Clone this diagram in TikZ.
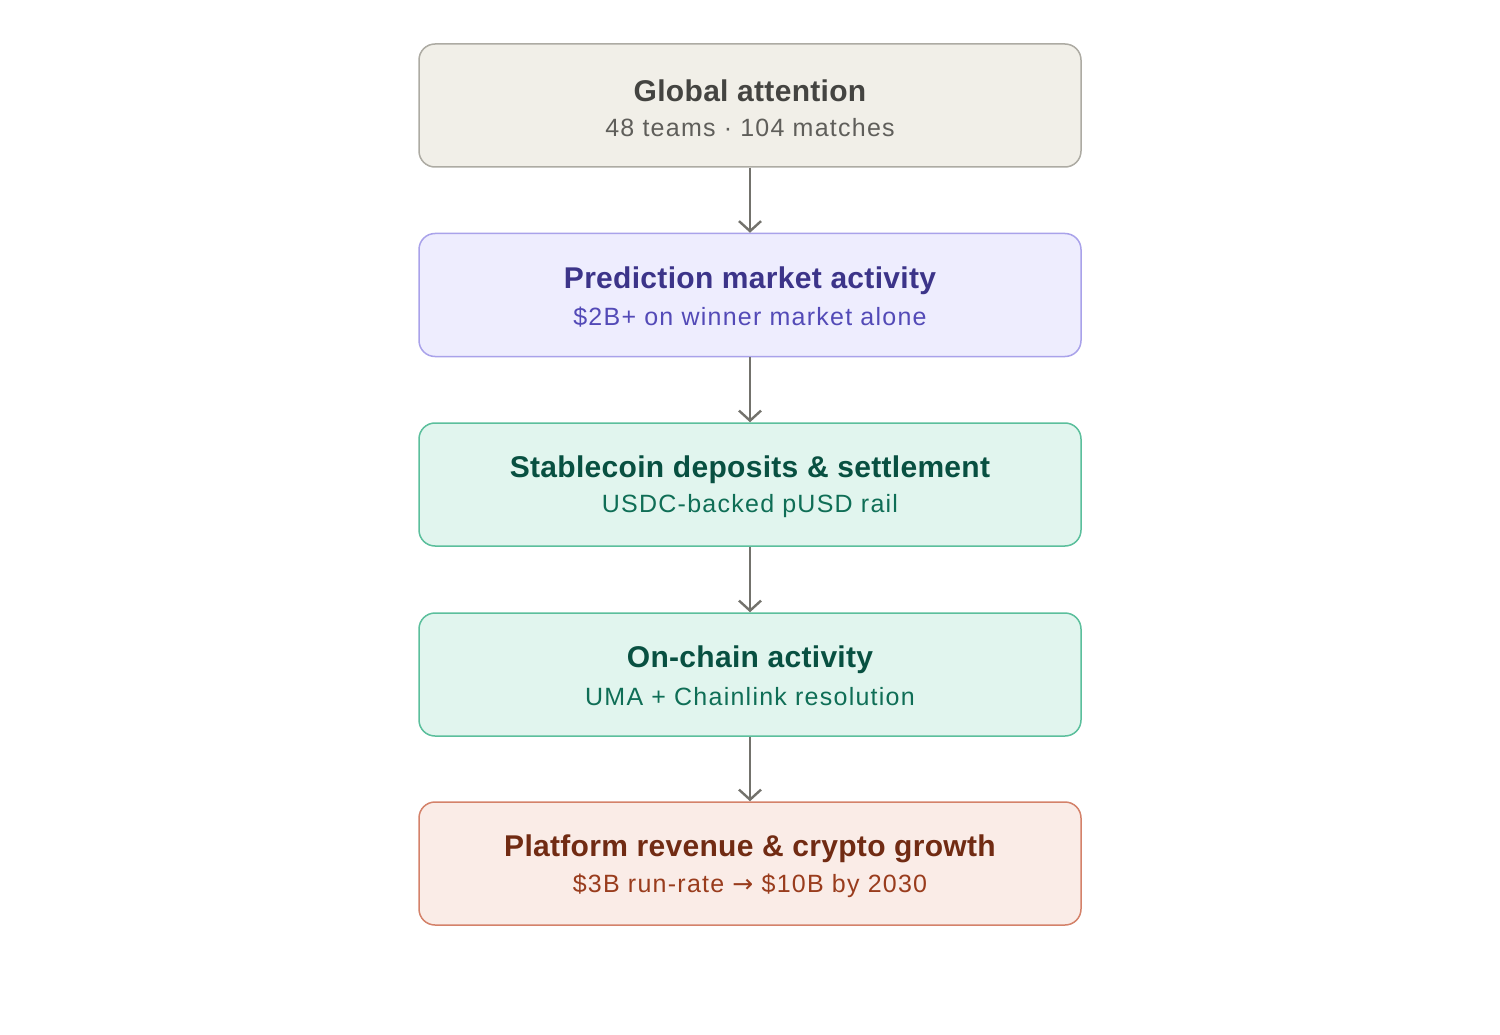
\documentclass[tikz,border=0pt]{standalone}
\usepackage{fontspec}
\setmainfont{Liberation Sans}
\newfontfamily\subfont[LetterSpace=5]{Liberation Sans}
\newfontfamily\ttlfont[LetterSpace=1]{Liberation Sans}
\newfontfamily\arrfont{DejaVu Sans}
\usetikzlibrary{arrows.meta}
\definecolor{gfill}{HTML}{F1EFE8}\definecolor{gline}{HTML}{ADABA3}\definecolor{gtitle}{HTML}{444441}\definecolor{gsub}{HTML}{5F5E5A}
\definecolor{pfill}{HTML}{EEEDFE}\definecolor{pline}{HTML}{A9A2EA}\definecolor{ptitle}{HTML}{3C3489}\definecolor{psub}{HTML}{534AB7}
\definecolor{tfill}{HTML}{E1F5EE}\definecolor{tline}{HTML}{5BBF9C}\definecolor{ttitle}{HTML}{085041}\definecolor{tsub}{HTML}{0F6E56}
\definecolor{cfill}{HTML}{FAECE7}\definecolor{cline}{HTML}{D4826A}\definecolor{ctitle}{HTML}{712B13}\definecolor{csub}{HTML}{993C1D}
\definecolor{arrowc}{HTML}{73726C}
\tikzset{
  box/.style={draw, line width=1.5pt, rounded corners=16pt, minimum width=662pt, minimum height=123pt, inner sep=0pt},
  ttl/.style={font=\ttlfont\fontsize{30}{35}\selectfont\bfseries},
  sub/.style={font=\subfont\fontsize{25}{30}\selectfont},
  flow/.style={draw=arrowc, line width=2.4pt, -{Straight Barb[length=10pt,width=22pt,line width=2.4pt]}}
}
\begin{document}
\begin{tikzpicture}[x=1pt,y=-1pt]
\useasboundingbox[fill=white] (0,0) rectangle (1500,1035);
\node[box, draw=gline, fill=gfill] (b1) at (750,105.5) {};
\node[box, draw=pline, fill=pfill] (b2) at (750,295) {};
\node[box, draw=tline, fill=tfill] (b3) at (750,484.5) {};
\node[box, draw=tline, fill=tfill] (b4) at (750,674.5) {};
\node[box, draw=cline, fill=cfill] (b5) at (750,863.5) {};
\node[ttl, text=gtitle] (t1) at (750,90.5) {Global attention};
\node[sub, text=gsub] (s1) at (750,127.5) {48 teams · 104 matches};
\node[ttl, text=ptitle] (t2) at (750,281) {Prediction market activity};
\node[sub, text=psub] (s2) at (750,317.5) {\$2B+ on winner market alone};
\node[ttl, text=ttitle] (t3) at (750,470) {Stablecoin deposits \& settlement};
\node[sub, text=tsub] (s3) at (750,506.5) {USDC-backed pUSD rail};
\node[ttl, text=ttitle] (t4) at (750,660) {On-chain activity};
\node[sub, text=tsub] (s4) at (750,696.5) {UMA + Chainlink resolution};
\node[ttl, text=ctitle] (t5) at (750,849) {Platform revenue \& crypto growth};
\node[sub, text=csub] (s5) at (750,885.5) {\$3B run-rate {\arrfont →} \$10B by 2030};
\draw[flow] (b1.south) -- (b2.north);
\draw[flow] (b2.south) -- (b3.north);
\draw[flow] (b3.south) -- (b4.north);
\draw[flow] (b4.south) -- (b5.north);
\end{tikzpicture}
\end{document}
